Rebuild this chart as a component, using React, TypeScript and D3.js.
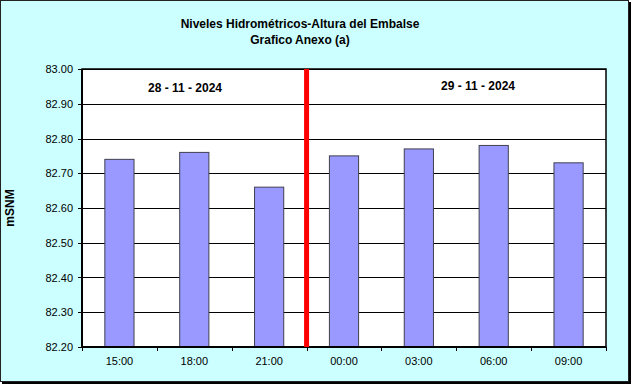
import React from "react";
import * as d3 from "d3";

const categories = ["15:00", "18:00", "21:00", "00:00", "03:00", "06:00", "09:00"];
const values = [82.74, 82.76, 82.66, 82.75, 82.77, 82.78, 82.73];
const yTicks = [82.2, 82.3, 82.4, 82.5, 82.6, 82.7, 82.8, 82.9, 83.0];
const titleLines = ["Niveles Hidrométricos-Altura del Embalse", "Grafico Anexo (a)"];
const dateLabels = ["28 - 11 - 2024", "29 - 11 - 2024"];
const yLabel = "mSNM";
const dividerAfter = "21:00";

export default function App() {
  const W = 633, H = 386;
  const left = 82, right = 606, top = 69, bottom = 347;
  const x = d3.scaleBand<string>().domain(categories).range([left, right]).paddingInner(0.61).paddingOuter(0.305);
  const xb = d3.scaleBand<string>().domain(categories).range([left, right]);
  const y = d3.scaleLinear().domain([82.2, 83.0]).range([bottom, top]);
  const font = "'Liberation Sans', Arial, sans-serif";
  const divX = (xb(dividerAfter) as number) + xb.bandwidth();
  return (
    <svg width={W} height={H} style={{ position: "absolute", left: 0, top: 0 }} fontFamily={font}>
      <rect x={2} y={2} width={629} height={382} fill="#000" />
      <rect x={0.5} y={0.5} width={628} height={381} fill="#CCFFFF" stroke="#222" strokeWidth={1} />
      <rect x={left} y={top} width={right - left} height={bottom - top} fill="#fff" />
      {yTicks.map((t) => (
        <g key={t}>
          <line x1={left - 4} x2={right} y1={Math.round(y(t)) + 0.5} y2={Math.round(y(t)) + 0.5} stroke="#000" strokeWidth={1} />
          <text x={73} y={y(t) + 4} textAnchor="end" fontSize={11} fill="#000">{t.toFixed(2)}</text>
        </g>
      ))}
      {categories.map((c, i) => (
        <g key={c}>
          <rect x={x(c)} y={y(values[i])} width={x.bandwidth()} height={bottom - y(values[i])} fill="#9999FF" stroke="#404050" strokeWidth={1} />
          <text x={(xb(c) as number) + xb.bandwidth() / 2} y={365} textAnchor="middle" fontSize={11} fill="#000">{c}</text>
          <line x1={Math.round((xb(c) as number) + xb.bandwidth()) + 0.5} x2={Math.round((xb(c) as number) + xb.bandwidth()) + 0.5} y1={bottom} y2={bottom + 4} stroke="#000" />
        </g>
      ))}
      <line x1={left + 0.5} x2={left + 0.5} y1={bottom + 4} y2={bottom} stroke="#000" />
      <rect x={left} y={top} width={right - left} height={bottom - top} fill="none" stroke="#000" strokeWidth={1.5} />
      <line x1={left} x2={left} y1={top} y2={bottom} stroke="#000" strokeWidth={2} />
      <line x1={left} x2={right} y1={bottom} y2={bottom} stroke="#000" strokeWidth={2} />
      <line x1={divX} x2={divX} y1={top} y2={bottom} stroke="#FF0000" strokeWidth={5} />
      <text x={185} y={92} textAnchor="middle" fontSize={12} fontWeight="bold">{dateLabels[0]}</text>
      <text x={478} y={90} textAnchor="middle" fontSize={12} fontWeight="bold">{dateLabels[1]}</text>
      <text x={300} y={28} textAnchor="middle" fontSize={12} fontWeight="bold">{titleLines[0]}</text>
      <text x={300} y={44} textAnchor="middle" fontSize={12} fontWeight="bold">{titleLines[1]}</text>
      <text transform={`translate(14,208) rotate(-90)`} textAnchor="middle" fontSize={12} fontWeight="bold">{yLabel}</text>
    </svg>
  );
}
